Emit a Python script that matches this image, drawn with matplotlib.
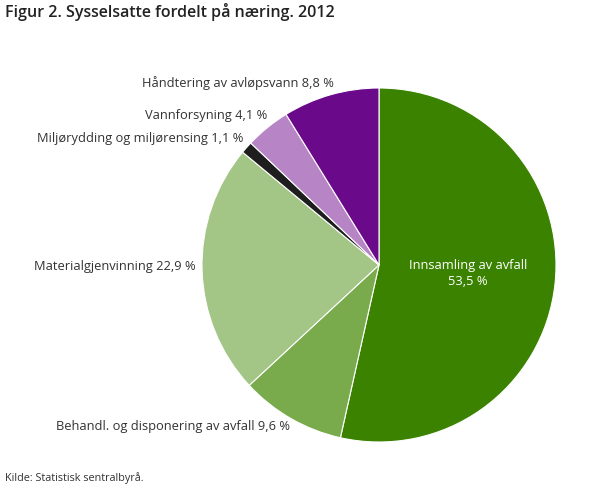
import matplotlib.pyplot as plt

plt.rcParams['font.family'] = ['Open Sans', 'DejaVu Sans']

categories = ["Innsamling av avfall", "Behandl. og disponering av avfall",
              "Materialgjenvinning", "Miljørydding og miljørensing",
              "Vannforsyning", "Håndtering av avløpsvann"]
values = [53.5, 9.6, 22.9, 1.1, 4.1, 8.8]
colors = ["#3b8200", "#79aa4b", "#a3c586", "#1e1e1e", "#b784c6", "#6a0a8a"]

fig = plt.figure(figsize=(6.1, 4.88), dpi=100)
ax = fig.add_axes([(379 - 177) / 610, (488 - 265 - 177) / 488, 354 / 610, 354 / 488])

ax.pie(values, colors=colors, startangle=90, counterclock=False, radius=1,
       wedgeprops=dict(edgecolor="white", linewidth=0.8))
ax.set_xlim(-1, 1)
ax.set_ylim(-1, 1)
ax.set_aspect("equal")
ax.axis("off")

def fmt(v):
    return f"{v:.1f}".replace(".", ",") + " %"

# outside labels (right aligned), positions in pie units
label_pos = {
    1: (-0.503, -0.915),
    2: (-1.034, -0.006),
    3: (-0.768, 0.712),
    4: (-0.630, 0.847),
    5: (-0.254, 1.030),
}
for i, (x, y) in label_pos.items():
    ax.text(x, y, f"{categories[i]} {fmt(values[i])}", ha="right", va="center",
            fontsize=9.25, color="#333333", clip_on=False)

ax.text(0.503, -0.048, f"{categories[0]}\n{fmt(values[0])}", ha="center", va="center",
        fontsize=9.25, color="white", linespacing=1.3)

fig.text(5 / 610, 1 - 12 / 488, "Figur 2. Sysselsatte fordelt på næring. 2012",
         ha="left", va="center", fontsize=11.5, fontweight="semibold", color="#222222")
fig.text(5 / 610, 1 - 478 / 488, "Kilde: Statistisk sentralbyrå.",
         ha="left", va="center", fontsize=7.8, color="#333333")

fig.savefig("out.png", dpi=100)
